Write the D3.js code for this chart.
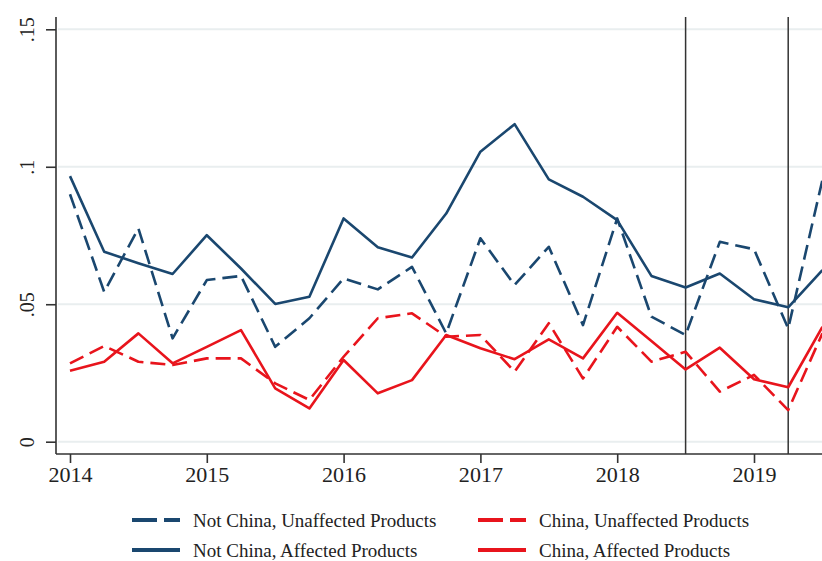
<!DOCTYPE html>
<html>
<head>
<meta charset="utf-8">
<script src="https://cdn.jsdelivr.net/npm/d3@7"></script>
<style>
    body { margin: 0; background: #fff; }
    svg { display: block; }
    text { font-family: "Liberation Serif", "Times New Roman", serif; fill: #222; }
</style>
</head>
<body>
<div id="chart"></div>
<script>
// quarterly observations, 2014q1 .. 2019q3
var quarters = ["2014q1", "2014q2", "2014q3", "2014q4", "2015q1", "2015q2", "2015q3", "2015q4",
    "2016q1", "2016q2", "2016q3", "2016q4", "2017q1", "2017q2", "2017q3", "2017q4",
    "2018q1", "2018q2", "2018q3", "2018q4", "2019q1", "2019q2", "2019q3"];

var notChinaUnaffected = [0.0900, 0.0545, 0.0776, 0.0376, 0.0588, 0.0603, 0.0345, 0.0449, 0.0594, 0.0554, 0.0636, 0.0394,
    0.0740, 0.0570, 0.0709, 0.0424, 0.0812, 0.0455, 0.0388, 0.0727, 0.0700, 0.0412, 0.0952];
var notChinaAffected = [0.0966, 0.0691, 0.0649, 0.0610, 0.0751, 0.0630, 0.0501, 0.0527, 0.0812, 0.0707, 0.0670, 0.0830,
    0.1055, 0.1155, 0.0954, 0.0891, 0.0806, 0.0603, 0.0561, 0.0612, 0.0518, 0.0489, 0.0624];
var chinaUnaffected = [0.0285, 0.0348, 0.0291, 0.0279, 0.0303, 0.0303, 0.0212, 0.0152, 0.0309, 0.0449, 0.0467, 0.0382,
    0.0388, 0.0255, 0.0431, 0.0230, 0.0418, 0.0291, 0.0327, 0.0182, 0.0243, 0.0115, 0.0394];
var chinaAffected = [0.0258, 0.0291, 0.0394, 0.0285, 0.0345, 0.0406, 0.0194, 0.0121, 0.0297, 0.0176, 0.0224, 0.0388,
    0.0340, 0.0300, 0.0372, 0.0303, 0.0469, 0.0366, 0.0263, 0.0342, 0.0227, 0.0198, 0.0418];

var yTicks = [0, 0.05, 0.1, 0.15];
var yTickLabels = ["0", ".05", ".1", ".15"];
var xTicks = [2014, 2015, 2016, 2017, 2018, 2019];
var eventDates = [2018.5, 2019.25];

var navy = "#1a476f",
    red = "#e8141c";

var seriesList = [
    { name: "Not China, Unaffected Products", values: notChinaUnaffected, color: navy, dash: "15,7" },
    { name: "Not China, Affected Products", values: notChinaAffected, color: navy, dash: null },
    { name: "China, Unaffected Products", values: chinaUnaffected, color: red, dash: "15,7" },
    { name: "China, Affected Products", values: chinaAffected, color: red, dash: null }
];

function quarterToYear(q) {
    var parts = q.split("q");
    return +parts[0] + (+parts[1] - 1) / 4;
}

var chart = {
    w: 822,
    h: 561,
    left: 56,
    top: 17,
    bottom: 454
};

var svg = d3.select("#chart")
    .append("svg")
    .attr("width", chart.w)
    .attr("height", chart.h);

var xScale = d3.scaleLinear()
    .domain([2014, 2019])
    .range([70, 754]);

var yScale = d3.scaleLinear()
    .domain([0, 0.15])
    .range([441.7, 29.3]);

// gridlines
svg.append("g")
    .selectAll("line")
    .data(yTicks)
    .enter().append("line")
    .attr("x1", chart.left + 2)
    .attr("x2", chart.w)
    .attr("y1", function (d) { return yScale(d); })
    .attr("y2", function (d) { return yScale(d); })
    .attr("stroke", "#e9eeef")
    .attr("stroke-width", 2);

// y axis, labels turned on their side
var yAxis = d3.axisLeft(yScale)
    .tickValues(yTicks)
    .tickFormat(function (d, i) { return yTickLabels[i]; })
    .tickSize(10);

var gy = svg.append("g")
    .attr("transform", "translate(" + chart.left + ",0)")
    .call(yAxis);
gy.select(".domain").attr("d", "M0," + chart.top + "V" + chart.bottom).attr("stroke", "#333").attr("stroke-width", 1.6);
gy.selectAll(".tick line").attr("stroke", "#333").attr("stroke-width", 1.6);
gy.selectAll(".tick text")
    .attr("font-size", 20)
    .attr("text-anchor", "middle")
    .attr("transform", "translate(-29,0) rotate(-90)")
    .attr("x", 0)
    .attr("y", 0)
    .attr("dy", "0.35em");

// x axis
var xAxis = d3.axisBottom(xScale)
    .tickValues(xTicks)
    .tickFormat(d3.format("d"))
    .tickSize(9)
    .tickPadding(4);

var gx = svg.append("g")
    .attr("transform", "translate(0," + chart.bottom + ")")
    .call(xAxis);
gx.select(".domain").attr("d", "M" + chart.left + ",0H" + chart.w).attr("stroke", "#333").attr("stroke-width", 1.6);
gx.selectAll(".tick line").attr("stroke", "#333").attr("stroke-width", 1.6);
gx.selectAll(".tick text")
    .attr("font-size", 21)
    .attr("transform", "scale(1.05,1)");

// event lines
svg.append("g")
    .selectAll("line")
    .data(eventDates)
    .enter().append("line")
    .attr("x1", function (d) { return xScale(d); })
    .attr("x2", function (d) { return xScale(d); })
    .attr("y1", chart.top)
    .attr("y2", chart.bottom)
    .attr("stroke", "#333")
    .attr("stroke-width", 1.5);

// series lines
var line = d3.line()
    .x(function (d, i) { return xScale(quarterToYear(quarters[i])); })
    .y(function (d) { return yScale(d); });

svg.append("g")
    .selectAll("path")
    .data(seriesList)
    .enter().append("path")
    .attr("d", function (s) { return line(s.values); })
    .attr("fill", "none")
    .attr("stroke", function (s) { return s.color; })
    .attr("stroke-width", 2.6)
    .attr("stroke-linejoin", "round")
    .attr("stroke-dasharray", function (s) { return s.dash; });

// legend, two columns
var legendPos = [
    { x: 132, y: 520 },
    { x: 132, y: 550 },
    { x: 478, y: 520 },
    { x: 478, y: 550 }
];

var legend = svg.append("g")
    .selectAll("g")
    .data(seriesList)
    .enter().append("g")
    .attr("transform", function (s, i) { return "translate(" + legendPos[i].x + "," + legendPos[i].y + ")"; });

legend.append("line")
    .attr("x1", 0)
    .attr("x2", 48)
    .attr("y1", 0)
    .attr("y2", 0)
    .attr("stroke", function (s) { return s.color; })
    .attr("stroke-width", 4)
    .attr("stroke-dasharray", function (s) { return s.dash ? "25,7" : null; });

legend.append("text")
    .attr("x", 61)
    .attr("y", 0)
    .attr("dy", "0.35em")
    .attr("font-size", 19)
    .text(function (s) { return s.name; });
</script>
</body>
</html>
